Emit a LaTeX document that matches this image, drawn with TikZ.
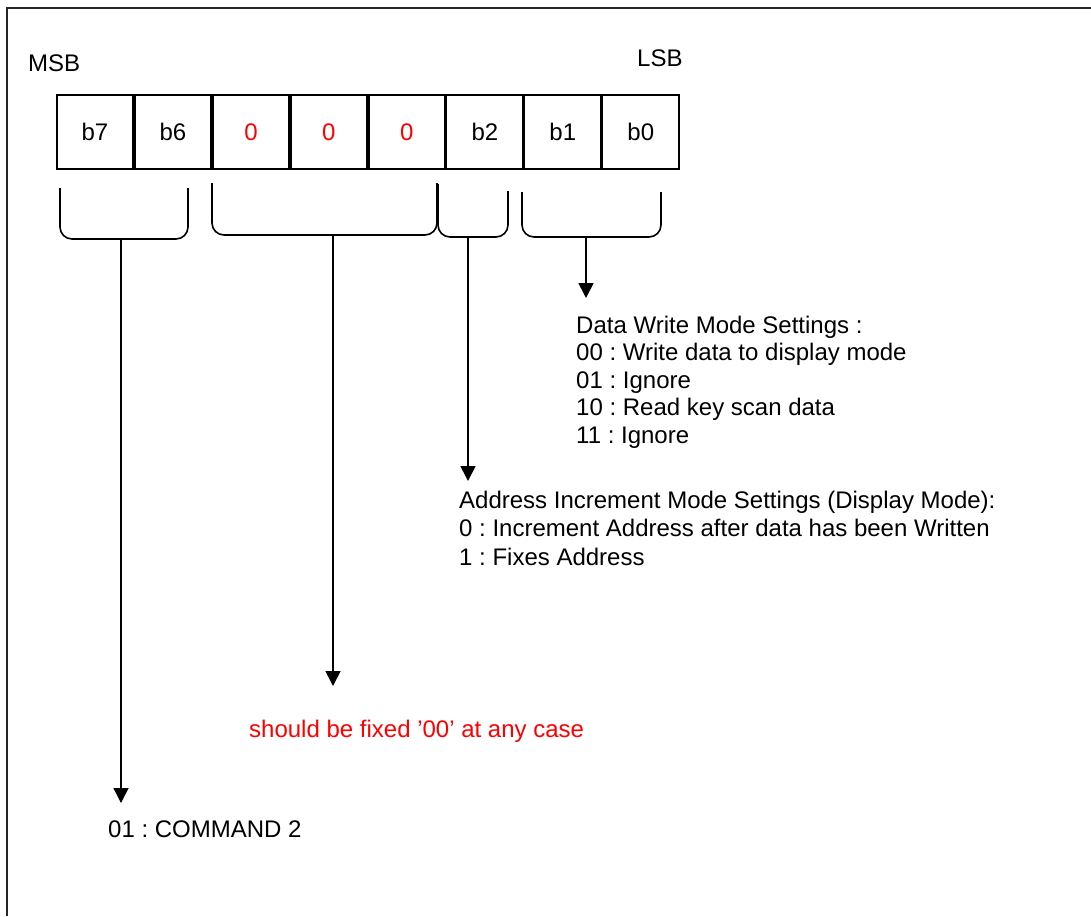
\documentclass[tikz,border=0pt]{standalone}
\usepackage{fontspec}
\setmainfont{Liberation Sans}
\usetikzlibrary{arrows.meta}
\frenchspacing
\begin{document}
\begin{tikzpicture}[x=1pt,y=-1pt,
  txt/.style={anchor=base west,inner sep=0pt,font=\fontsize{24}{28}\selectfont\frenchspacing},
  cell/.style={draw,line width=1.6pt,minimum width=76.375pt,minimum height=74pt,inner sep=0pt,anchor=north west,font=\fontsize{24}{28}\selectfont},
  zerocell/.style={cell,text=red},
  brace/.style={line width=1.6pt,rounded corners=12pt},
  arr/.style={line width=1.6pt,-{Triangle[length=15pt,width=15pt]}}]
\useasboundingbox (0,0) rectangle (1091,916);
\draw[line width=2pt,black!85] (7,916) -- (7,8) -- (1091,8);

% register cells
\node[cell] (c7) at (56,94) {b7};
\node[cell] (c6) at (c7.north east) {b6};
\node[zerocell] (c5) at (c6.north east) {0};
\node[zerocell] (c4) at (c5.north east) {0};
\node[zerocell] (c3) at (c4.north east) {0};
\node[cell] (c2) at (c3.north east) {b2};
\node[cell] (c1) at (c2.north east) {b1};
\node[cell] (c0) at (c1.north east) {b0};

\node[txt] (msb) at (28,71) {MSB};
\node[txt] (lsb) at (637,66) {LSB};

% brackets
\draw[brace] (60,188) -- (60,239) -- (188,239) -- (188,188);
\draw[brace] (212,183) -- (212,235) -- (437,235) -- (437,183);
\draw[brace] (438,184) -- (438,237) -- (508,237) -- (508,191);
\draw[brace] (522,192) -- (522,237) -- (661,237) -- (661,192);

\coordinate (s1) at (121,239);
\coordinate (s2) at (333,235);
\coordinate (s3) at (468,237);
\coordinate (s4) at (586,237);
\coordinate (e1) at (121,803);
\coordinate (e2) at (333,686);
\coordinate (e3) at (468,481);
\coordinate (e4) at (586,298);

\draw[arr] (s1) -- (e1);
\draw[arr] (s2) -- (e2);
\draw[arr] (s3) -- (e3);
\draw[arr] (s4) -- (e4);

% descriptions
\node[txt] (d0) at (576,333) {Data Write Mode Settings :};
\node[txt] (d1) at (576,360.5) {00 : Write data to display mode};
\node[txt] (d2) at (576,388) {01 : Ignore};
\node[txt] (d3) at (576,415.5) {10 : Read key scan data};
\node[txt] (d4) at (576,443) {11 : Ignore};

\node[txt] (a0) at (459,508) {Address Increment Mode Settings (Display Mode):};
\node[txt] (a1) at (459,536.5) {0 : Increment Address after data has been Written};
\node[txt] (a2) at (459,565) {1 : Fixes Address};

\node[txt,text=red] (fx) at (249,737) {should be fixed ’00’ at any case};
\node[txt] (cmd) at (108,837) {01 : COMMAND 2};
\end{tikzpicture}
\end{document}
